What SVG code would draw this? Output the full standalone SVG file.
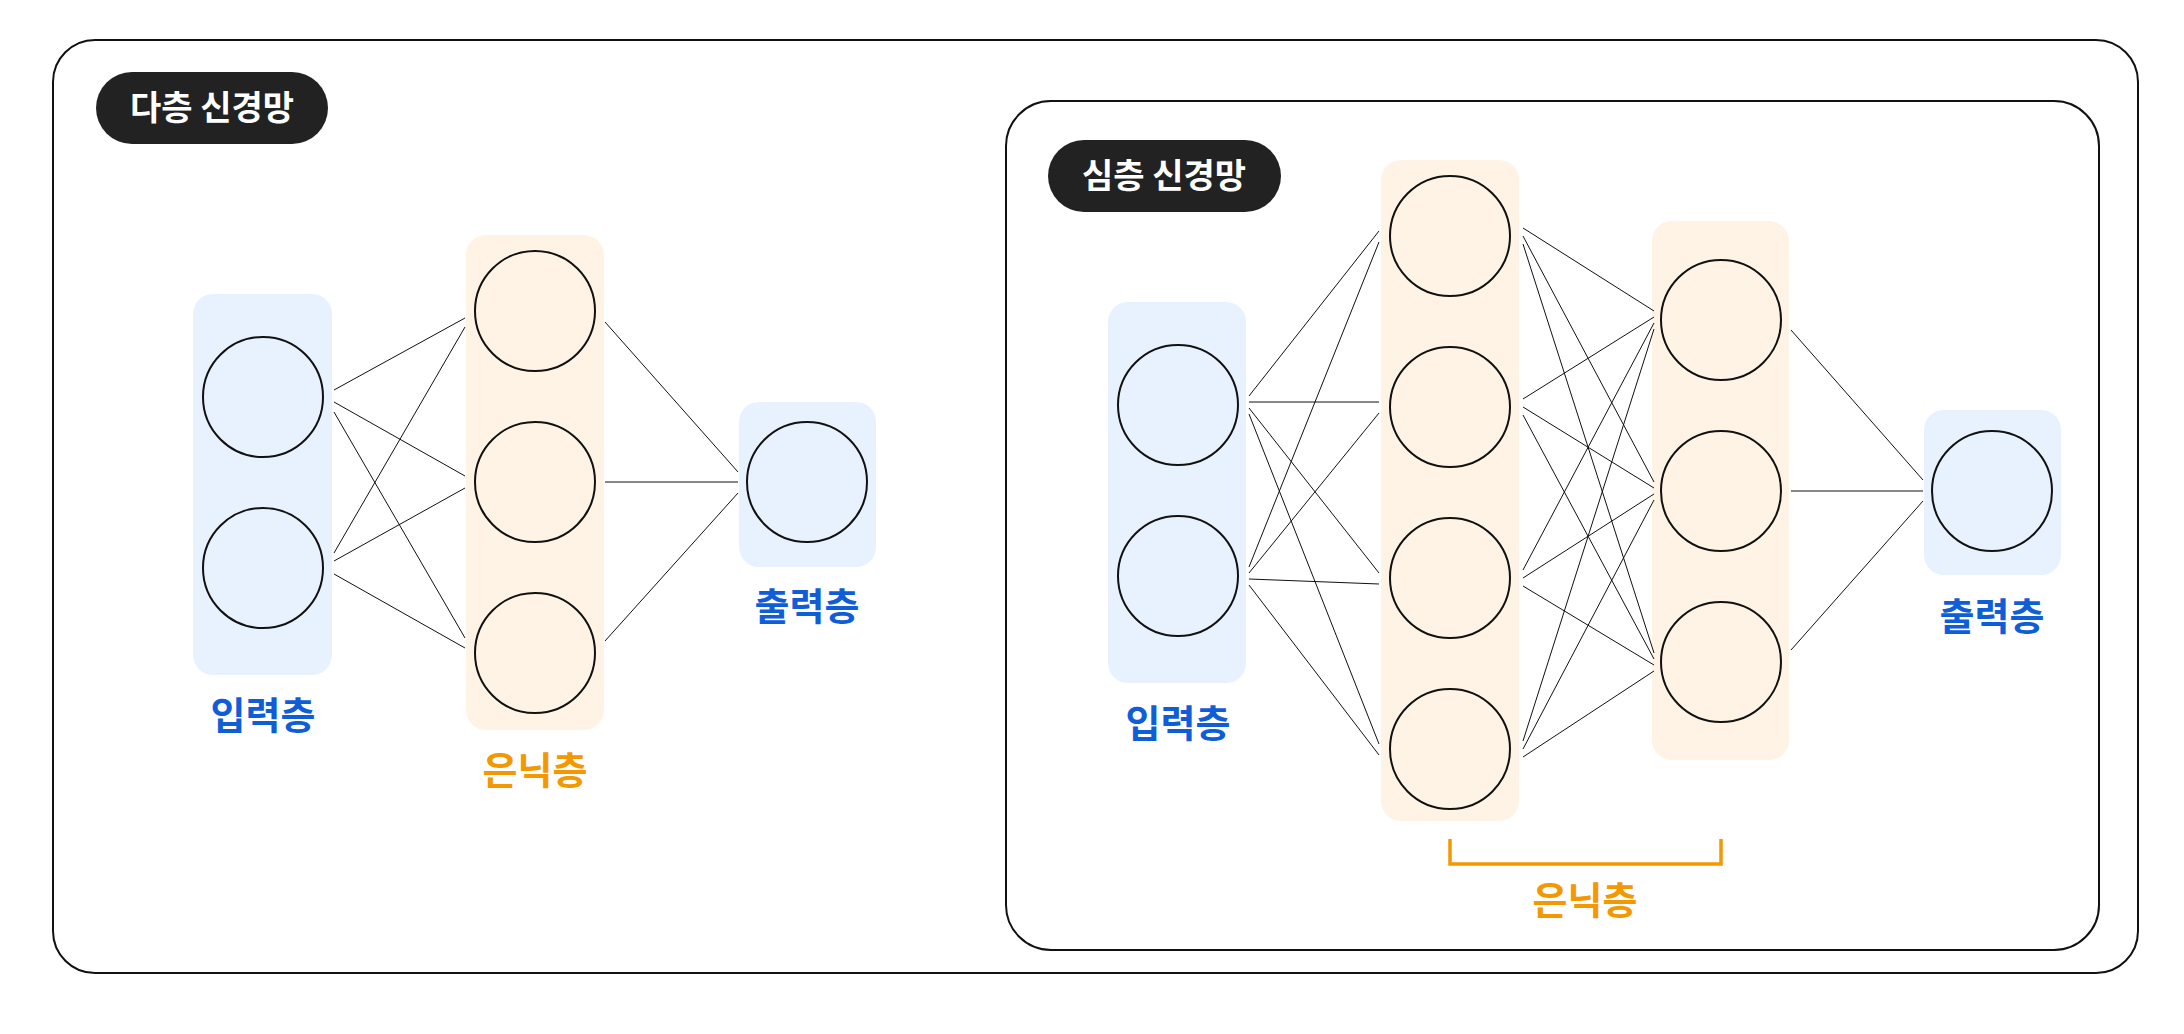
<svg xmlns="http://www.w3.org/2000/svg" width="2184" height="1034" viewBox="0 0 2184 1034">
<style>
.frame{fill:#fff;stroke:#111;stroke-width:2}
.bp{fill:#E8F2FF}
.op{fill:#FFF3E6}
.nb{fill:#E8F2FF;stroke:#111;stroke-width:2}
.no{fill:#FFF3E6;stroke:#111;stroke-width:2}
.pill{fill:#222}
.pt{font-family:"Noto Sans CJK KR","Noto Sans",sans-serif;font-size:34px;font-weight:700;fill:#fff;text-anchor:middle}
.lb{font-family:"Noto Sans CJK KR","Noto Sans",sans-serif;font-size:38px;font-weight:600;text-anchor:middle}
.blue{fill:#0F5ED8}
.orange{fill:#F39800}
#edges line{stroke:#111;stroke-width:1}
</style>
<rect class="frame" x="53" y="40" width="2085" height="933" rx="42"/>
<g id="title-mlp"><rect class="pill" x="96" y="72" width="232" height="72" rx="36"/><text class="pt" x="212" y="120">다층 신경망</text></g>
<g id="mlp-input"><rect class="bp" x="193" y="294" width="139" height="381" rx="20"/><circle class="nb" cx="263" cy="397" r="60"/><circle class="nb" cx="263" cy="568" r="60"/><text class="lb blue" x="263" y="729">입력층</text></g>
<g id="mlp-hidden"><rect class="op" x="466" y="235" width="138" height="495" rx="20"/><circle class="no" cx="535" cy="311" r="60"/><circle class="no" cx="535" cy="482" r="60"/><circle class="no" cx="535" cy="653" r="60"/><text class="lb orange" x="535" y="784">은닉층</text></g>
<g id="mlp-output"><rect class="bp" x="739" y="402" width="137" height="165" rx="20"/><circle class="nb" cx="807" cy="482" r="60"/><text class="lb blue" x="807" y="620">출력층</text></g>
<g id="dnn-box"><rect class="frame" x="1006" y="101" width="1093" height="849" rx="45"/></g>
<g id="title-dnn"><rect class="pill" x="1048" y="140" width="233" height="72" rx="36"/><text class="pt" x="1164" y="188">심층 신경망</text></g>
<g id="dnn-input"><rect class="bp" x="1108" y="302" width="138" height="381" rx="20"/><circle class="nb" cx="1178" cy="405" r="60"/><circle class="nb" cx="1178" cy="576" r="60"/><text class="lb blue" x="1178" y="737">입력층</text></g>
<g id="dnn-hidden1"><rect class="op" x="1381" y="160" width="138" height="661" rx="20"/><circle class="no" cx="1450" cy="236" r="60"/><circle class="no" cx="1450" cy="407" r="60"/><circle class="no" cx="1450" cy="578" r="60"/><circle class="no" cx="1450" cy="749" r="60"/></g>
<g id="dnn-hidden2"><rect class="op" x="1652" y="221" width="137" height="539" rx="20"/><circle class="no" cx="1721" cy="320" r="60"/><circle class="no" cx="1721" cy="491" r="60"/><circle class="no" cx="1721" cy="662" r="60"/></g>
<g id="dnn-output"><rect class="bp" x="1924" y="410" width="137" height="165" rx="20"/><circle class="nb" cx="1992" cy="491" r="60"/><text class="lb blue" x="1992" y="630">출력층</text></g>
<g id="dnn-hidden-label"><path d="M1450 839V864H1721V839" fill="none" stroke="#F39800" stroke-width="3.5"/><text class="lb orange" x="1585" y="914">은닉층</text></g>
<g id="edges">
<line x1="334" y1="390" x2="465" y2="318"/><line x1="334" y1="402" x2="465" y2="476"/><line x1="334" y1="412" x2="465" y2="638"/>
<line x1="334" y1="553" x2="465" y2="327"/><line x1="334" y1="561" x2="465" y2="488"/><line x1="334" y1="574" x2="465" y2="648"/>
<line x1="605" y1="322" x2="738" y2="472"/><line x1="605" y1="482" x2="738" y2="482"/><line x1="605" y1="641" x2="738" y2="493"/>
<line x1="1249" y1="396" x2="1379" y2="231"/><line x1="1249" y1="402" x2="1379" y2="402"/><line x1="1249" y1="408" x2="1379" y2="573"/><line x1="1249" y1="414" x2="1379" y2="744"/>
<line x1="1249" y1="567" x2="1379" y2="242"/><line x1="1249" y1="573" x2="1379" y2="413"/><line x1="1249" y1="579" x2="1379" y2="584"/><line x1="1249" y1="585" x2="1379" y2="755"/>
<line x1="1523" y1="228" x2="1654" y2="311"/><line x1="1523" y1="236" x2="1654" y2="482"/><line x1="1523" y1="244" x2="1654" y2="653"/>
<line x1="1523" y1="399" x2="1654" y2="317"/><line x1="1523" y1="407" x2="1654" y2="488"/><line x1="1523" y1="415" x2="1654" y2="659"/>
<line x1="1523" y1="570" x2="1654" y2="323"/><line x1="1523" y1="578" x2="1654" y2="494"/><line x1="1523" y1="586" x2="1654" y2="665"/>
<line x1="1523" y1="741" x2="1654" y2="329"/><line x1="1523" y1="749" x2="1654" y2="500"/><line x1="1523" y1="757" x2="1654" y2="671"/>
<line x1="1791" y1="330" x2="1923" y2="480"/><line x1="1791" y1="491" x2="1923" y2="491"/><line x1="1791" y1="650" x2="1923" y2="501"/>
</g>
</svg>
